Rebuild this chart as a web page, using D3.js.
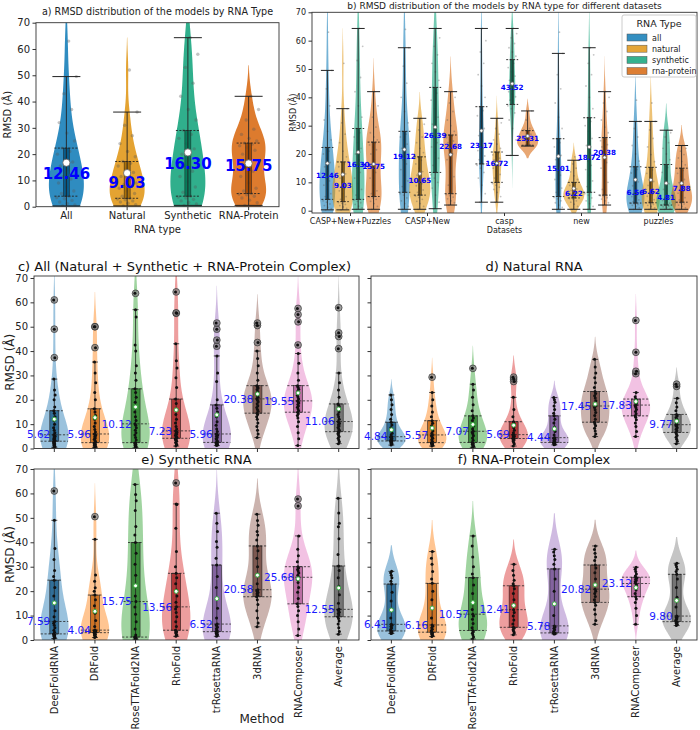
<!DOCTYPE html>
<html>
<head>
<meta charset="utf-8">
<script src="https://cdnjs.cloudflare.com/ajax/libs/d3/7.8.5/d3.min.js"></script>
<style>
body { margin: 0; background: #fff; }
svg { font-family: "DejaVu Sans", sans-serif; }
</style>
</head>
<body>
<script>
// ---- data (RMSD values, Å) ----
var rnaTypes = ["all", "natural", "synthetic", "rna-protein"];
var typeNames = ["All", "Natural", "Synthetic", "RNA-Protein"];
var datasets = ["CASP+New+Puzzles", "CASP+New", "casp", "new", "puzzles"];
var methods = ["DeepFoldRNA", "DRFold", "RoseTTAFold2NA", "RhoFold", "trRosettaRNA", "3dRNA", "RNAComposer", "Average"];
var yTicks = [0, 10, 20, 30, 40, 50, 60, 70];

// per dataset: [all, natural, synthetic, rna-protein]
var caspNewPuzzles = [
  [0.3,0.7,1.2,1.8,2.4,3,3.5,4,5,6,7.5,9,10.5,11.5,12.46,14,15.5,17,18.5,20,21,22.3,25,28,32,37,43,49.5,63],
  [0.3,0.8,1.3,1.8,2.2,2.6,2.9,3.2,4,5,6,7,7.8,8.5,9.03,10,11.5,13,14.5,15.5,16.5,17.2,19,21,24,27,31,36,52],
  [0.5,1,1.6,2.2,2.8,3.3,3.7,4,5.5,7.5,9.5,11.5,13.5,15,16.3,18,20,22,24,26,27.5,29,33,37,42,47,53,58,64.3],
  [0.5,1.5,2.5,3.3,4,4.5,4.8,5,6,7,9,11.5,13.5,15,15.75,18,20,21.5,22.5,23.2,23.8,24.2,25,26,27.5,29.5,33,37,42]
];
var caspNew = [
  [0.5,1.5,2.5,3.5,4.5,5.5,6,6.5,8.5,10.5,12.5,14.5,16.5,18,19.12,20.5,22,23.5,25,26,27,28,31,35,40,45,51,57.5,64],
  [0.5,1.5,2.5,3.3,4,4.7,5.2,5.5,6.5,7.3,8,8.8,9.5,10.1,10.65,11.5,12.5,13.8,15,16.5,17.8,19,20.5,22,24,26,28.5,30.5,32.6],
  [0.7,3,5.5,8,10,11.5,12.7,13.5,16,18.5,20.5,22.5,24,25.3,26.39,28,30.5,33,36,39,41.5,43.5,46,49,52,55,58,61,64.3],
  [2,2.8,3.5,4.2,4.8,5.3,5.7,6,9,12,15,18,20,21.5,22.68,23.3,24,24.6,25.2,25.8,26.3,26.7,28,30,32,35,38,40,42]
];
var caspOnly = [
  [3,6,9,11.5,13.5,15,16,16.5,18,19.3,20.3,21.2,22,22.6,23.17,24.5,26.5,29,31.5,33.5,35.3,36.7,40,44,48,52,56,60,64.3],
  [3,5,6.5,7.5,8.3,9,9.6,10,11.5,12.8,14,15,15.8,16.3,16.72,17.3,17.9,18.5,19.1,19.7,20.2,20.7,22,23.5,25,27,29,31,32.6],
  [19.5,25,29,32,34.5,36,37,37.5,39,40.2,41.2,42,42.7,43.1,43.52,44.5,46,47.5,49,50.5,52,53.3,54.5,56,57.5,59,61,62.5,64.3],
  [22.8,23,23,23,23.2,24,25,25.31,26,27,28,28.5,29,32,35.2]
];
var newOnly = [
  [0.5,1.2,2,2.8,3.5,4.2,4.7,5,6.5,8,9.5,11,12.5,14,15.01,16.5,18,19.5,21,22.5,24,25.4,29,33,38,43,48,55.5,63],
  [0.5,1.5,2.3,3,3.5,4,4.3,4.5,4.9,5.2,5.5,5.8,6,6.1,6.22,6.6,7.1,7.7,8.3,8.9,9.5,10,11,12.3,13.7,15,16.5,17.8,19],
  [0.5,1.5,2.5,3.5,4.5,5.5,6,6.5,8.5,10.5,12.5,14.5,16,17.5,18.72,20.5,23,25.5,28,30,31.5,32.8,36,40,44,48,52,55,57.5],
  [2,2.8,3.5,4.1,4.6,5,5.3,5.5,7.5,10,12.5,15,17,19,20.38,21.5,22.5,23.3,24,24.7,25.3,25.8,27.5,29.5,32,35,38,40,42]
];
var puzzlesOnly = [
  [0.5,1,1.5,1.9,2.2,2.4,2.6,2.7,3.2,3.8,4.4,5,5.6,6.1,6.56,7.5,8.8,10.2,11.8,13.3,14.5,15.5,17.5,20,23,26,29,31.5,39],
  [0.5,1,1.5,1.9,2.2,2.5,2.7,2.8,3.3,3.9,4.5,5.1,5.7,6.2,6.62,7.6,8.9,10.3,11.8,13.2,14.4,15.3,17.3,19.8,22.5,25.5,28.5,31.5,38],
  [0.5,0.8,1.1,1.4,1.6,1.8,1.9,2,2.3,2.7,3.1,3.6,4.1,4.5,4.81,6,7.5,9.5,11.5,13.5,15.2,16.3,18,20,22,24,26,27.5,28.4],
  [0.5,1,1.5,2,2.4,2.7,2.9,3,3.8,4.6,5.4,6.2,6.9,7.4,7.88,8.8,9.9,11,12.1,13.2,14.2,15,16.2,17.4,18.6,19.8,21,22,23]
];
var datasetValues = [caspNewPuzzles, caspNew, caspOnly, newOnly, puzzlesOnly];
var datasetLabels = [
  [12.46, 9.03, 16.30, 15.75],
  [19.12, 10.65, 26.39, 22.68],
  [23.17, 16.72, 43.52, 25.31],
  [15.01, 6.22, 18.72, 20.38],
  [6.56, 6.62, 4.81, 7.88]
];

// per method, one array per panel
var allRmsd = [
  [0.5,0.8,1.1,1.4,1.8,2.1,2.4,2.7,3,3.3,3.6,3.9,4.3,4.7,5,5.3,5.62,6.5,7.5,8.5,10,11.5,13,14.5,15.5,17,20,22,24,28.5,37.3,49,61],
  [0.5,0.8,1,1.3,1.6,1.9,2.1,2.3,2.4,2.8,3.3,3.8,4.3,4.8,5.3,5.7,5.96,6.8,7.8,9,10.5,12,13.5,15,16.3,20,23,27,31,35.5,41.4,50,50],
  [0.3,0.6,0.9,1.2,1.5,1.8,2.1,2.3,2.4,3.5,4.5,5.5,6.5,7.5,8.5,9.5,10.12,11.5,13,15,17,19,21,23,24.5,28,31,34,40,42.5,54,57,63.7],
  [1,1.5,2,2.5,3,3.4,3.7,4,4.2,4.6,5,5.4,5.8,6.2,6.6,7,7.23,8,9,10.5,12,14,16,18.5,20.3,25,29,33,36,43,55.5,55.7,64.3],
  [1.2,1.4,1.6,1.8,2,2.1,2.3,2.4,2.5,3,3.5,4,4.5,5,5.4,5.7,5.96,7,8,9.5,11,13,15,16.5,17.9,20,27.5,31,38,42,44.5,49,51.5],
  [4.5,6,7.5,9,10.5,12,13,14,14.5,15.3,16,16.8,17.6,18.4,19.2,19.8,20.38,21,21.8,22.6,23.4,24.2,24.8,25.3,25.8,28,31,34,37,40,43.5,50.5,51.5],
  [1.2,4,6.5,9,11,12.5,13.5,14.3,14.9,15.5,16.2,16.9,17.5,18.1,18.7,19.2,19.55,20.3,21.1,21.9,22.7,23.5,24.3,25.1,25.8,28,31,35,39,42.5,52,55,57.5],
  [2,2.8,3.5,4.2,4.9,5.5,6.1,6.6,6.9,7.5,8,8.6,9.2,9.8,10.3,10.7,11.06,12,13,14,15,16,17,17.7,18.3,21,24,27,31,41,46,47.5,57.8]
];
var naturalRmsd = [
  [1.4,1.8,2.1,2.4,2.7,2.9,3.1,3.4,3.7,4,4.3,4.6,4.84,5.5,6.3,7.3,8.5,9.6,10.8,12,14,16,18,20,22],
  [1,1.3,1.6,1.9,2.1,2.3,2.4,3,3.6,4.2,4.7,5.2,5.57,6.3,7.2,8.2,9.3,10.4,11.4,13,15,17.5,20,23,29.3],
  [0.5,0.9,1.3,1.7,2,2.3,2.5,3.4,4.3,5.2,6,6.6,7.07,8,9.2,10.4,11.5,12.5,13.4,15.5,18,21,24,26.4,32.9],
  [1,1.8,2.5,3.1,3.5,3.8,4.1,4.4,4.7,5,5.2,5.5,5.69,6.5,7.5,8.5,9.5,10.3,11,13,16,21,27.5,28.5,29.3],
  [1.5,1.7,1.9,2.1,2.3,2.4,2.5,2.9,3.3,3.7,4,4.2,4.44,5.5,7,8.8,10.5,12,13.4,14.5,16,17.5,19,20,20.9],
  [4.9,6,7.2,8.3,9.3,10.1,10.8,12,13.5,14.8,15.9,16.8,17.45,18.5,19.6,20.7,21.7,22.6,23.4,25,27,29,31,33.5,36.6],
  [4.9,7,9,10.5,11.8,12.8,13.4,14.3,15.2,16,16.8,17.4,17.83,18.3,18.8,19.2,19.6,20,20.3,21.2,23,30.7,31.7,39.5,52.6],
  [2,3,3.8,4.6,5.3,6,6.6,7.3,7.9,8.5,9,9.4,9.77,10.5,11.3,12,12.7,13.4,14,15.5,17,18.8,20.6,25.5,26.4]
];
var syntheticRmsd = [
  [0.6,1,1.4,1.7,2,2.3,2.5,3.2,4,5,6,6.9,7.59,9.5,12,15,18,21.5,24.5,26,28.5,33,37.5,49,61],
  [1,1.3,1.6,2,2.4,2.7,3,3.2,3.4,3.6,3.8,3.9,4.04,5.5,8,11,14,16.5,18.4,20,21.4,24,26.6,41.2,50.5],
  [0.3,0.5,0.6,0.8,0.9,1.1,1.2,2,4.5,7.5,10.5,13.5,15.75,18,22,26.5,31,35.5,39.9,43,46.5,53,57,59.6,63.7],
  [1.5,2,2.5,3,3.4,3.7,4,5.5,7.5,9.5,11.3,12.7,13.56,15.5,18,20.5,23,25.5,27.3,30,36.2,45.7,55.5,55.7,64.3],
  [1.5,2,2.4,2.7,3,3.2,3.4,4,4.6,5.2,5.7,6.1,6.52,9,13,17,21.5,26,30.7,33.5,38,40.3,44.4,47.8,51.9],
  [5.4,7,9,12,14.5,16.5,17.7,18.3,18.9,19.4,19.8,20.2,20.58,23,26.5,30,33.5,36.5,38.5,40.9,43,44.4,47,48.9,51.5],
  [1.8,4.5,7.5,10,12,13.7,14.8,17,19.5,21.5,23.5,24.8,25.68,26.5,27.4,28.2,28.9,29.5,30,32,34.5,37.2,42.6,54.9,57.7],
  [2.4,3.5,5,6.5,7.8,8.8,9.5,10.2,10.8,11.4,11.9,12.3,12.55,15,18.5,22,25.5,28.5,30.3,35,41.4,46.4,47.8,52,58]
];
var proteinRmsd = [
  [2.7,2.9,3.1,3.3,3.5,3.7,4.3,4.9,5.5,6,6.41,9,12.5,16,19.5,22.9,24,25.5,26.5,27.5,28.1],
  [1.4,1.8,2.2,2.6,2.9,3.2,3.8,4.4,5,5.6,6.16,9,13,16.5,20,23.2,25,28,31,33.5,36.2],
  [0.4,1.2,2,2.8,3.4,3.9,5,6.8,8.5,9.8,10.57,12.5,15.5,19,22.5,25.5,27,30,34,38.5,42.6],
  [2.1,2.9,3.6,4.2,4.8,5.2,6.5,8.2,9.8,11.3,12.41,14,16.5,19,21,22.2,23,24.5,26.5,28.5,31],
  [2.5,2.6,2.7,2.8,2.85,2.9,3.5,4.2,4.8,5.3,5.78,10,15,20,25,29.1,31,33,34.5,36,37.1],
  [6.4,8,10.5,12.5,14.2,15.4,16.5,17.8,19,20,20.82,22.5,25,27.5,29.5,30.7,32.5,34,35.5,37,38.5],
  [6.4,10,13,15.3,16.8,17.7,19,20.5,21.7,22.5,23.12,23.8,24.4,24.9,25.3,25.7,26.2,27,28,29,29.8],
  [5.9,6.3,6.7,7,7.3,7.5,8.1,8.7,9.2,9.5,9.8,13.5,17.5,21.5,25,26.9,28,29,30,30.8,31.4]
];
var allLabels = [5.62, 5.96, 10.12, 7.23, 5.96, 20.38, 19.55, 11.06];
var naturalLabels = [4.84, 5.57, 7.07, 5.69, 4.44, 17.45, 17.83, 9.77];
var syntheticLabels = [7.59, 4.04, 15.75, 13.56, 6.52, 20.58, 25.68, 12.55];
var proteinLabels = [6.41, 6.16, 10.57, 12.41, 5.78, 20.82, 23.12, 9.80];

// ---- styling ----
var typeColors = ["#0173b2", "#de8f05", "#029e73", "#d55e00"];
var methodColors = d3.schemeCategory10.slice(0, 8);
var fmt = d3.format(".2f");

var svg = d3.select("body").append("svg").attr("width", 700).attr("height", 730);
svg.append("rect").attr("width", 700).attr("height", 730).attr("fill", "#fff");
var defs = svg.append("defs");

function stats(vals) {
  var s = vals.slice().sort(d3.ascending);
  var q1 = d3.quantile(s, 0.25), med = d3.quantile(s, 0.5), q3 = d3.quantile(s, 0.75);
  var iqr = q3 - q1;
  var lo = d3.min(s.filter(function(v) { return v >= q1 - 1.5 * iqr; }));
  var hi = d3.max(s.filter(function(v) { return v <= q3 + 1.5 * iqr; }));
  var bw = d3.deviation(s) * Math.pow(s.length, -0.2);
  var dens = function(t) {
    return d3.mean(s, function(v) { var z = (t - v) / bw; return Math.exp(-0.5 * z * z); }) / (bw * Math.sqrt(2 * Math.PI));
  };
  var a = s[0] - 2 * bw, b = s[s.length - 1] + 2 * bw;
  var curve = d3.range(0, 101).map(function(i) { var t = a + (b - a) * i / 100; return [t, dens(t)]; });
  return { s: s, q1: q1, med: med, q3: q3, lo: lo, hi: hi, mean: d3.mean(s), dens: dens, curve: curve,
           peak: d3.max(curve, function(d) { return d[1]; }) };
}

function panelFrame(name, x0, x1, yTop, yBot) {
  var g = svg.append("g");
  defs.append("clipPath").attr("id", "clip-" + name).append("rect")
    .attr("x", x0).attr("y", yTop).attr("width", x1 - x0).attr("height", yBot - yTop);
  var inner = g.append("g").attr("clip-path", "url(#clip-" + name + ")");
  return { g: g, inner: inner, border: function() {
    g.append("rect").attr("x", x0).attr("y", yTop).attr("width", x1 - x0).attr("height", yBot - yTop)
      .attr("fill", "none").attr("stroke", "#333").attr("stroke-width", 0.9);
  } };
}

function yAxis(g, y, x0, showLabels, fs) {
  var ax = g.append("g").attr("transform", "translate(" + x0 + ",0)")
    .call(d3.axisLeft(y).tickValues(yTicks).tickSize(3.5).tickPadding(2.5)
      .tickFormat(showLabels ? d3.format("d") : function() { return ""; }));
  ax.attr("font-family", null).attr("font-size", fs);
  ax.select(".domain").remove();
  ax.selectAll("line").attr("stroke", "#333");
  ax.selectAll("text").attr("fill", "#222");
}

function jitter(i, amp) { return ((i * 0.6180339 + 0.31) % 1 - 0.5) * 2 * amp; }

// violins for RNA types (panels a and b)
function typeViolins(g, y, items, o) {
  items.forEach(function(it) { it.st = stats(it.vals); });
  var gPeak = d3.max(items, function(it) { return it.st.peak; });
  items.forEach(function(it) {
    var st = it.st, cx = it.cx;
    var norm = o.mode === "width" ? st.peak : gPeak;
    var hw = function(d) { return o.maxHalf * d / norm; };
    g.append("path").datum(st.curve)
      .attr("d", d3.area().curve(d3.curveBasis)
        .y(function(d) { return y(d[0]); })
        .x0(function(d) { return cx - hw(d[1]); })
        .x1(function(d) { return cx + hw(d[1]); }))
      .attr("fill", it.color).attr("fill-opacity", o.alpha);
    g.selectAll(null).data(st.s).enter().append("circle")
      .attr("cx", function(d, i) { return cx + jitter(i, o.jit); })
      .attr("cy", function(d) { return y(d); })
      .attr("r", o.ptR).attr("fill", "#555").attr("fill-opacity", 0.35);
    g.append("rect").attr("x", cx - o.boxW / 2).attr("y", y(st.q3))
      .attr("width", o.boxW).attr("height", y(st.q1) - y(st.q3))
      .attr("fill", d3.color(it.color).darker(0.9)).attr("fill-opacity", 0.85)
      .attr("stroke", "#222").attr("stroke-width", 0.5);
    [st.q1, st.q3].forEach(function(q) {
      g.append("line").attr("x1", cx - o.dashHalf).attr("x2", cx + o.dashHalf)
        .attr("y1", y(q)).attr("y2", y(q)).attr("stroke", "#222").attr("stroke-width", 0.9)
        .attr("stroke-dasharray", "2,1.5");
    });
    g.append("line").attr("x1", cx).attr("x2", cx).attr("y1", y(st.lo)).attr("y2", y(st.hi))
      .attr("stroke", "#222").attr("stroke-width", 0.9);
    [st.lo, st.hi].forEach(function(q) {
      g.append("line").attr("x1", cx - o.capHalf).attr("x2", cx + o.capHalf)
        .attr("y1", y(q)).attr("y2", y(q)).attr("stroke", "#222").attr("stroke-width", 1);
    });
    g.append("circle").attr("cx", cx).attr("cy", y(st.mean)).attr("r", o.meanR)
      .attr("fill", "#fff").attr("stroke", "#666").attr("stroke-width", 0.8);
  });
}

function typeLabels(g, y, items, fs) {
  items.forEach(function(it) {
    g.append("text").attr("x", it.cx).attr("y", y(it.label)).attr("dy", "0.35em")
      .attr("text-anchor", "middle").attr("font-size", fs).attr("font-weight", "bold")
      .attr("fill", "#0000ff").text(fmt(it.label));
  });
}

// violins for methods (panels c-f)
function methodViolins(g, y, items, maxHalf) {
  items.forEach(function(it) {
    var st = stats(it.vals), cx = it.cx;
    var hw = function(d) { return maxHalf * d / st.peak; };
    g.append("path").datum(st.curve)
      .attr("d", d3.area().curve(d3.curveBasis)
        .y(function(d) { return y(d[0]); })
        .x0(function(d) { return cx - hw(d[1]); })
        .x1(function(d) { return cx + hw(d[1]); }))
      .attr("fill", it.color).attr("fill-opacity", 0.45);
    g.append("rect").attr("x", cx - 4.5).attr("y", y(st.q3))
      .attr("width", 9).attr("height", y(st.q1) - y(st.q3))
      .attr("fill", d3.color(it.color).darker(0.8)).attr("fill-opacity", 0.8)
      .attr("stroke", "#222").attr("stroke-width", 0.6);
    [st.q1, st.med, st.q3].forEach(function(q) {
      var h = hw(st.dens(q));
      g.append("line").attr("x1", cx - h).attr("x2", cx + h)
        .attr("y1", y(q)).attr("y2", y(q)).attr("stroke", "#222").attr("stroke-width", 0.8)
        .attr("stroke-dasharray", "2.2,1.6");
    });
    g.append("line").attr("x1", cx).attr("x2", cx).attr("y1", y(st.lo)).attr("y2", y(st.hi))
      .attr("stroke", "#222").attr("stroke-width", 0.8);
    [st.lo, st.hi].forEach(function(q) {
      g.append("line").attr("x1", cx - 3).attr("x2", cx + 3)
        .attr("y1", y(q)).attr("y2", y(q)).attr("stroke", "#222").attr("stroke-width", 0.8);
    });
    var outl = st.s.filter(function(v) { return v < st.lo || v > st.hi; });
    g.selectAll(null).data(outl).enter().append("circle")
      .attr("cx", cx).attr("cy", function(d) { return y(d); }).attr("r", 3.4)
      .attr("fill", "#777").attr("fill-opacity", 0.7).attr("stroke", "#333").attr("stroke-width", 0.7);
    g.selectAll(null).data(st.s).enter().append("circle")
      .attr("cx", function(d, i) { return cx + jitter(i, 0.8); })
      .attr("cy", function(d) { return y(d); }).attr("r", 1.5).attr("fill", "#111");
    g.append("circle").attr("cx", cx).attr("cy", y(st.mean)).attr("r", 2)
      .attr("fill", "#fff").attr("stroke", "#3cb043").attr("stroke-width", 1);
  });
}

function methodLabels(g, y, items) {
  items.forEach(function(it) {
    g.append("text").attr("x", it.cx - 4).attr("y", y(it.label)).attr("dy", "0.35em")
      .attr("text-anchor", "end").attr("font-size", 10.5).attr("fill", "#1a1aff")
      .text(fmt(it.label));
  });
}

// ---- panel a ----
(function() {
  var x0 = 36, x1 = 279, yTop = 22.7, yBot = 206.7;
  var y = d3.scaleLinear().domain([0, 70]).range([yBot, yTop]);
  var x = d3.scalePoint().domain(typeNames).range([x0, x1]).padding(0.5);
  var p = panelFrame("a", x0, x1, yTop, yBot);
  var items = typeNames.map(function(n, i) {
    return { cx: x(n), vals: caspNewPuzzles[i], color: typeColors[i], label: datasetLabels[0][i] };
  });
  typeViolins(p.inner, y, items, { mode: "width", maxHalf: 17.5, alpha: 0.82, jit: 10, ptR: 1.7, boxW: 6, dashHalf: 12, capHalf: 14, meanR: 3.6 });
  p.border();
  typeLabels(p.g, y, items, 15);
  yAxis(p.g, y, x0, true, 10);
  typeNames.forEach(function(n) {
    p.g.append("line").attr("x1", x(n)).attr("x2", x(n)).attr("y1", yBot).attr("y2", yBot + 3.5).attr("stroke", "#333");
    p.g.append("text").attr("x", x(n)).attr("y", yBot + 12).attr("text-anchor", "middle")
      .attr("font-size", 10).attr("fill", "#222").text(n);
  });
  p.g.append("text").attr("x", (x0 + x1) / 2).attr("y", 233).attr("text-anchor", "middle")
    .attr("font-size", 10).attr("fill", "#222").text("RNA type");
  p.g.append("text").attr("transform", "translate(11," + ((yTop + yBot) / 2) + ") rotate(-90)")
    .attr("text-anchor", "middle").attr("font-size", 10).attr("fill", "#222").text("RMSD (Å)");
  p.g.append("text").attr("x", (x0 + x1) / 2).attr("y", 15).attr("text-anchor", "middle")
    .attr("font-size", 9.6).attr("fill", "#222").text("a) RMSD distribution of the models by RNA Type");
})();

// ---- panel b ----
(function() {
  var x0 = 312, x1 = 697, yTop = 12.3, yBot = 213;
  var y = d3.scaleLinear().domain([0, 70]).range([210.7, yTop]);
  var x = d3.scalePoint().domain(datasets).range([x0, x1]).padding(0.5);
  var step = x.step();
  var inner = d3.scaleBand().domain(rnaTypes).range([-0.4 * step, 0.4 * step]);
  var p = panelFrame("b", x0, x1, yTop, yBot);
  var allItems = [];
  datasets.forEach(function(ds, di) {
    var items = rnaTypes.map(function(t, i) {
      return { cx: x(ds) + inner(t) + inner.bandwidth() / 2, vals: datasetValues[di][i],
               color: typeColors[i], label: datasetLabels[di][i] };
    });
    typeViolins(p.inner, y, items, { mode: "area", maxHalf: 10.5, alpha: 0.55, jit: 4.5, ptR: 0.9, boxW: 3, dashHalf: 6, capHalf: 6.5, meanR: 1.7 });
    allItems = allItems.concat(items);
  });
  p.border();
  typeLabels(p.g, y, allItems, 7.2);
  yAxis(p.g, y, x0, true, 8);
  datasets.forEach(function(ds) {
    p.g.append("line").attr("x1", x(ds)).attr("x2", x(ds)).attr("y1", yBot).attr("y2", yBot + 3).attr("stroke", "#333");
    p.g.append("text").attr("x", x(ds)).attr("y", yBot + 11).attr("text-anchor", "middle")
      .attr("font-size", 8).attr("fill", "#222").text(ds);
  });
  p.g.append("text").attr("x", (x0 + x1) / 2).attr("y", 233).attr("text-anchor", "middle")
    .attr("font-size", 8).attr("fill", "#222").text("Datasets");
  p.g.append("text").attr("transform", "translate(296," + ((yTop + yBot) / 2) + ") rotate(-90)")
    .attr("text-anchor", "middle").attr("font-size", 8).attr("fill", "#222").text("RMSD (Å)");
  p.g.append("text").attr("x", (x0 + x1) / 2).attr("y", 9).attr("text-anchor", "middle")
    .attr("font-size", 9).attr("fill", "#222").text("b) RMSD distribution of the models by RNA type for different datasets");
  // legend
  var lg = p.g.append("g").attr("transform", "translate(622,15)");
  lg.append("rect").attr("width", 74).attr("height", 62).attr("rx", 2)
    .attr("fill", "#fff").attr("fill-opacity", 0.85).attr("stroke", "#ccc");
  lg.append("text").attr("x", 37).attr("y", 12).attr("text-anchor", "middle")
    .attr("font-size", 9.5).attr("fill", "#222").text("RNA Type");
  rnaTypes.forEach(function(t, i) {
    lg.append("rect").attr("x", 5).attr("y", 19 + i * 11.2).attr("width", 20).attr("height", 7)
      .attr("fill", typeColors[i]).attr("fill-opacity", 0.8).attr("stroke", "#555").attr("stroke-width", 0.5);
    lg.append("text").attr("x", 30).attr("y", 25.5 + i * 11.2).attr("font-size", 8)
      .attr("fill", "#222").text(t);
  });
})();

// ---- panels c-f ----
var methodPanels = [
  { name: "c", title: "c) All (Natural + Synthetic + RNA-Protein Complex)", vals: allRmsd, labels: allLabels,
    x0: 34, x1: 359, top: 276, y70: 278, y0: 448.5, yLab: true, xLab: false },
  { name: "d", title: "d) Natural RNA", vals: naturalRmsd, labels: naturalLabels,
    x0: 371, x1: 697, top: 276, y70: 278, y0: 448.5, yLab: false, xLab: false },
  { name: "e", title: "e) Synthetic RNA", vals: syntheticRmsd, labels: syntheticLabels,
    x0: 34, x1: 359, top: 469, y70: 469, y0: 640, yLab: true, xLab: true },
  { name: "f", title: "f) RNA-Protein Complex", vals: proteinRmsd, labels: proteinLabels,
    x0: 371, x1: 697, top: 469, y70: 469, y0: 640, yLab: false, xLab: true }
];
methodPanels.forEach(function(P) {
  var y = d3.scaleLinear().domain([0, 70]).range([P.y0, P.y70]);
  var x = d3.scalePoint().domain(methods).range([P.x0, P.x1]).padding(0.5);
  var p = panelFrame(P.name, P.x0, P.x1, P.top, P.y0);
  var items = methods.map(function(m, i) {
    return { cx: x(m), vals: P.vals[i], color: methodColors[i], label: P.labels[i] };
  });
  methodViolins(p.inner, y, items, x.step() * 0.35);
  p.border();
  methodLabels(p.g, y, items);
  yAxis(p.g, y, P.x0, P.yLab, 10);
  methods.forEach(function(m) {
    p.g.append("line").attr("x1", x(m)).attr("x2", x(m)).attr("y1", P.y0).attr("y2", P.y0 + 3.5).attr("stroke", "#333");
    if (P.xLab) {
      p.g.append("text").attr("transform", "translate(" + x(m) + "," + (P.y0 + 6) + ") rotate(-90)")
        .attr("text-anchor", "end").attr("dy", "0.35em").attr("font-size", 10).attr("fill", "#222").text(m);
    }
  });
  if (P.yLab) {
    p.g.append("text").attr("transform", "translate(14," + ((P.top + P.y0) / 2) + ") rotate(-90)")
      .attr("text-anchor", "middle").attr("font-size", 12).attr("fill", "#222").text("RMSD (Å)");
  }
  p.g.append("text").attr("x", (P.x0 + P.x1) / 2 - (P.name === "c" ? 12 : 0)).attr("y", P.top - 5)
    .attr("text-anchor", "middle").attr("font-size", 13).attr("fill", "#111").text(P.title);
});
svg.append("text").attr("x", 262).attr("y", 723).attr("text-anchor", "middle")
  .attr("font-size", 12).attr("fill", "#222").text("Method");
</script>
</body>
</html>
